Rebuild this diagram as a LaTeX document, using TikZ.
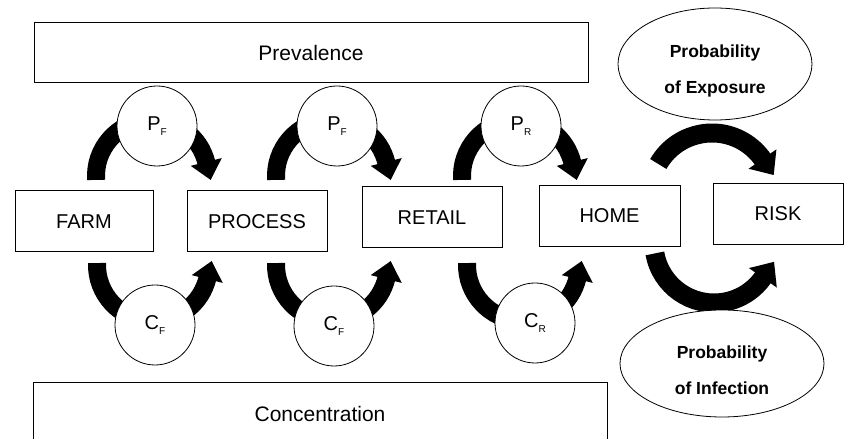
\documentclass[tikz,border=0pt]{standalone}
\usepackage{fontspec}
\setmainfont{Liberation Sans}
\usetikzlibrary{calc,shapes.geometric}
\newcommand\subl[1]{\raisebox{-5pt}{\fontsize{10}{10}\selectfont #1}}
\newcommand\arrhead[4]{\fill[shift={#1},rotate=#2] (-0.5,-#3) -- (-0.5,#3) -- (#4,0) -- cycle;}
\begin{document}
\begin{tikzpicture}[x=1pt,y=1pt,
  wide/.style={draw,line width=1pt,minimum width=#1,minimum height=60pt,inner sep=0pt,font=\fontsize{21}{25}\selectfont},
  stage/.style={draw,line width=1pt,minimum width=#1,minimum height=61pt,inner sep=0pt,font=\fontsize{20}{24}\selectfont},
  circ/.style={draw,circle,fill=white,line width=0.8pt,minimum size=80pt,inner sep=0pt,font=\fontsize{20}{24}\selectfont},
  ell/.style={draw,ellipse,fill=white,line width=0.8pt,minimum width=#1,inner sep=0pt},
  elltext/.style={align=center,inner sep=0pt,font=\bfseries\fontsize{17.5}{36}\selectfont},
  flow/.style={line width=18pt,line cap=butt},
  bigflow/.style={line width=19pt,line cap=butt}
]
\path[use as bounding box,fill=white] (0,0) rectangle (844,439);

% arc centres
\coordinate (a1) at (152,263);
\coordinate (a2) at (332,263);
\coordinate (a3) at (518,263);
\coordinate (b1) at (153,174);
\coordinate (b2) at (332,174);
\coordinate (b3) at (523,174);
\coordinate (r1) at (712,244);
\coordinate (r2) at (714,196);

% top arrows (prevalence)
\foreach \c in {a1,a2,a3}{
  \draw[flow] ($(\c)+(184:56)$) arc[start angle=184,end angle=13,radius=56];
  \arrhead{($(\c)+(14:56)$)}{-76}{16}{18}
}
% bottom arrows (concentration)
\foreach \c in {b1,b2,b3}{
  \draw[flow] ($(\c)+(178:56)$) arc[start angle=178,end angle=347,radius=56];
  \arrhead{($(\c)+(346:56)$)}{76}{16}{18}
}
% risk arrows
\draw[bigflow] ($(r1)+(150:62)$) arc[start angle=150,end angle=34,radius=62];
\arrhead{($(r1)+(35:62)$)}{-55}{17}{19}
\draw[bigflow] ($(r2)+(190:60)$) arc[start angle=190,end angle=326,radius=60];
\arrhead{($(r2)+(325:60)$)}{55}{17}{19}

% wide boxes
\node[wide=554pt] (prev) at (311,386.5) {Prevalence};
\node[wide=574pt,minimum height=62pt] (conc) at (320,25) {Concentration};

% stage boxes
\node[stage=138pt] (farm) at (84,217.5) {FARM};
\node[stage=140pt] (proc) at (257,217.5) {PROCESS};
\node[stage=140pt] (ret) at (432,221.5) {RETAIL};
\node[stage=141pt] (home) at (609.5,223) {HOME};
\node[stage=130pt] (risk) at (778,225) {RISK};

% circles
\node[circ] (p1) at (157,313) {P\subl{F}};
\node[circ] (p2) at (337,313) {P\subl{F}};
\node[circ] (p3) at (521,313) {P\subl{R}};
\node[circ] (c1) at (155,114) {C\subl{F}};
\node[circ] (c2) at (334,113) {C\subl{F}};
\node[circ] (c3) at (535,116) {C\subl{R}};

% ellipses
\node[ell=194pt,minimum height=112pt] (expo) at (715,375) {};
\node[elltext] (expot) at (715,368) {Probability\\of Exposure};
\node[ell=204pt,minimum height=107pt] (infe) at (722,75.5) {};
\node[elltext] (infet) at (722,68.5) {Probability\\of Infection};
\end{tikzpicture}
\end{document}
